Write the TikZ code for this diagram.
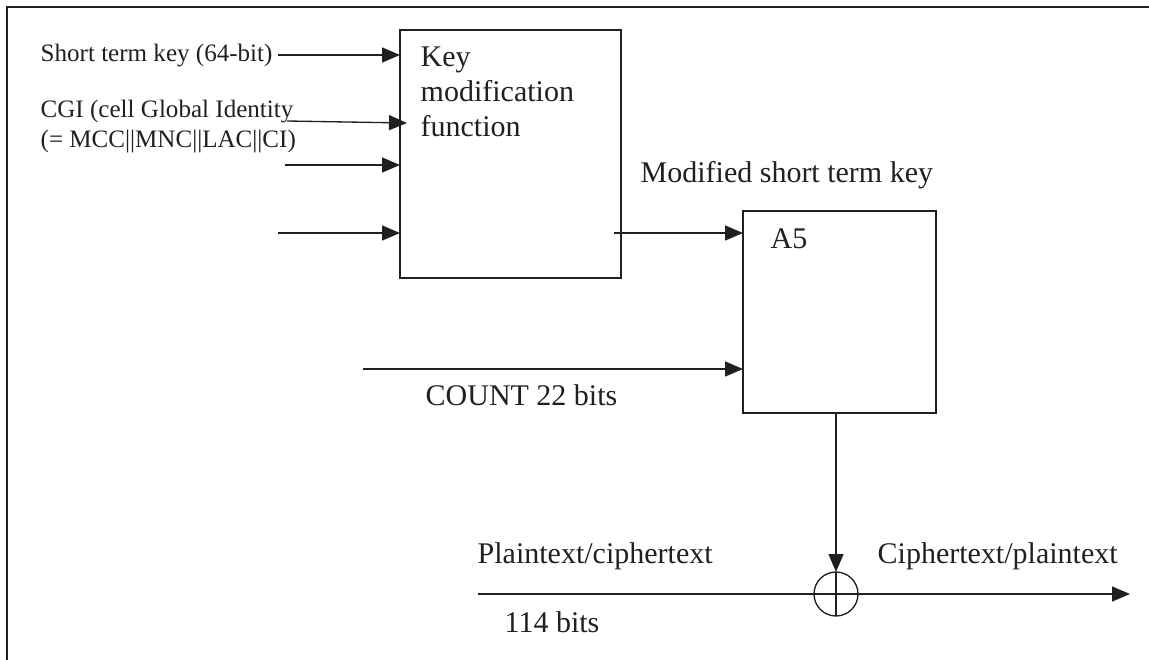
\documentclass[tikz,border=0pt]{standalone}
\usepackage{fontspec}
\setmainfont{Liberation Serif}
\usetikzlibrary{arrows.meta}
\definecolor{ink}{RGB}{35,31,32}
\begin{document}
\begin{tikzpicture}[x=0.75pt,y=-0.75pt,
  line width=1pt, draw=ink, text=ink,
  arr/.style={-{Triangle[length=13.5pt,width=11.25pt]}, fill=ink},
  blk/.style={draw=ink, line width=1pt, inner sep=0pt, outer sep=0pt},
  big/.style={inner sep=0pt, anchor=base west, font=\fontsize{22.5}{26.4}\selectfont, align=left},
  small/.style={inner sep=0pt, anchor=base west, font=\fontsize{18.8}{22}\selectfont, align=left}]
\useasboundingbox (0,0) rectangle (1149,660);
% frame
\coordinate (fa) at (7,660);
\coordinate (fb) at (7,7);
\coordinate (fc) at (1149,7);
\draw[line width=1.3pt] (fa) -- (fb) -- (fc);
% blocks
\node[blk, minimum width=165.75pt, minimum height=186pt] (kmf) at (510.5,154) {};
\node[blk, minimum width=144.75pt, minimum height=151.5pt] (a5) at (839.5,312) {};
\node[draw=ink, circle, line width=1pt, minimum size=33pt, inner sep=0pt, outer sep=0pt] (xor) at (836,594) {};
% texts (multi-line nodes are anchored at the baseline of their last line)
\node[big] (tkey) at (420,137) {Key\\modification\\function};
\node[big] (ta5) at (770,248) {A5};
\node[big] (tmod) at (640,182) {Modified short term key};
\node[big] (tcount) at (425,405) {COUNT 22 bits};
\node[big] (tplain) at (477,563) {Plaintext/ciphertext};
\node[big] (tcipher) at (877,563) {Ciphertext/plaintext};
\node[big] (tbits) at (504,632) {114 bits};
\node[small] (tshort) at (40,62) {Short term key (64-bit)};
\node[small] (tcgi) at (40,147) {CGI (cell Global Identity\\(= MCC||MNC||LAC||CI)};
% inputs to key modification function
\coordinate (s1) at (278,55);
\coordinate (s2a) at (287,121);
\coordinate (s2b) at (407,123);
\coordinate (s3) at (285,165);
\coordinate (s4) at (278,233);
\draw[arr] (s1) -- (s1 -| kmf.west);
\draw[arr] (s2a) -- (s2b);
\draw[arr] (s3) -- (s3 -| kmf.west);
\draw[arr] (s4) -- (s4 -| kmf.west);
% to A5
\coordinate (m0) at (614,233);
\draw[arr] (m0) -- (m0 -| a5.west);
\coordinate (c0) at (363,369);
\draw[arr] (c0) -- (c0 -| a5.west);
% A5 to xor
\draw[arr] (a5.south -| xor) -- (xor.north);
% data path
\coordinate (p0) at (478,594);
\coordinate (p1) at (1130,594);
\draw[arr] (p0) -- (p1);
\draw (xor.north) -- (xor.south);
\end{tikzpicture}
\end{document}
